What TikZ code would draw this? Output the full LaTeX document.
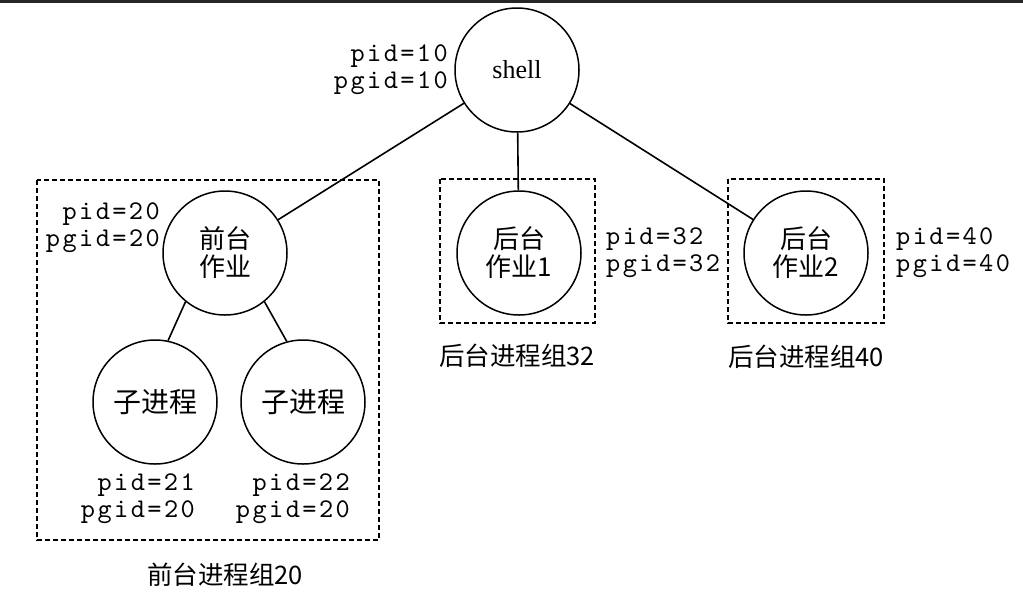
\documentclass[tikz,border=0pt]{standalone}
\usepackage{fontspec}
\setmainfont{Liberation Serif}
\newfontfamily\cjk{Noto Sans CJK SC}
\newfontfamily\monoid{lmmono10-regular.otf}[LetterSpace=9]
\begin{document}
\begin{tikzpicture}[x=1pt,y=-1pt,
  proc/.style={circle, draw, line width=1.5pt, minimum size=124pt, inner sep=0pt, align=center,
               font=\cjk\fontsize{26}{28}\selectfont},
  grp/.style={draw, line width=2pt, dash pattern=on 5pt off 3pt},
  idlbl/.style={font=\monoid\fontsize{27}{27}\selectfont, inner sep=0pt},
  grpcap/.style={font=\cjk\fontsize{25.5}{28}\selectfont, inner sep=0pt},
  link/.style={line width=1.6pt}]
\useasboundingbox (0,0) rectangle (1023,606);
\fill[black!85] (0,0) rectangle (1023,2.5);

% group boxes
\draw[grp] (37,180) rectangle (379,540);
\draw[grp] (440,179) rectangle (595,323);
\draw[grp] (728,179) rectangle (884,323);

% processes
\node[proc, font=\fontsize{26}{28}\selectfont] (shell) at (517,70) {shell};
\node[proc] (fg) at (225,253) {前台\\作业};
\node[proc, font=\cjk\fontsize{28}{30}\selectfont] (c1) at (155,402) {子进程};
\node[proc, font=\cjk\fontsize{28}{30}\selectfont] (c2) at (303,402) {子进程};
\node[proc] (bg1) at (519,253) {后台\\作业1};
\node[proc] (bg2) at (806,253) {后台\\作业2};

% links
\draw[link] (shell) -- (fg);
\draw[link] (shell) -- (bg1);
\draw[link] (shell) -- (bg2);
\draw[link] (fg.231) -- (c1.78);
\draw[link] (fg.309) -- (c2.105);

% id labels
\node[idlbl, anchor=east, align=right] (shellid) at (448,70) {pid=10\\pgid=10};
\node[idlbl, anchor=east, align=right] (fgid) at (160,228) {pid=20\\pgid=20};
\node[idlbl, anchor=east, align=right] (c1id) at (195,499) {pid=21\\pgid=20};
\node[idlbl, anchor=east, align=right] (c2id) at (350,499) {pid=22\\pgid=20};
\node[idlbl, anchor=west, align=left] (bg1id) at (606,253) {pid=32\\pgid=32};
\node[idlbl, anchor=west, align=left] (bg2id) at (896,253) {pid=40\\pgid=40};

% captions
\node[grpcap] (fgcap) at (225,575) {前台进程组20};
\node[grpcap] (bg1cap) at (517,356) {后台进程组32};
\node[grpcap] (bg2cap) at (806,357) {后台进程组40};
\end{tikzpicture}
\end{document}
